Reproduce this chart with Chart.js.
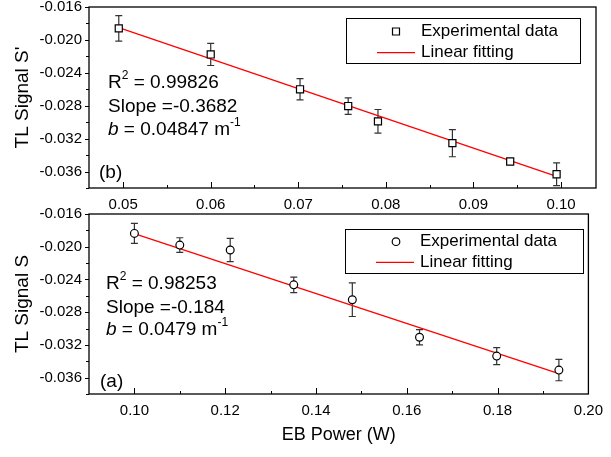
<!DOCTYPE html>
<html>
<head>
<meta charset="utf-8">
<script src="https://cdn.jsdelivr.net/npm/chart.js@4.4.1/dist/chart.umd.min.js"></script>
<style>
  html, body { margin: 0; padding: 0; background: #fff; }
  #wrap { position: relative; width: 611px; height: 457px; overflow: hidden; }
  .pane { position: absolute; left: 0; width: 611px; }
</style>
</head>
<body>
<div id="wrap">
  <div class="pane" style="top:-9px;height:221px"><canvas id="topChart" width="611" height="221"></canvas></div>
  <div class="pane" style="top:198px;height:248px"><canvas id="botChart" width="611" height="248"></canvas></div>
</div>
<script>
// panel (b) - top
var topX   = [0.0495, 0.0600, 0.0702, 0.0757, 0.0791, 0.0876, 0.0942, 0.0995];
var topY   = [-0.0186, -0.02177, -0.0260, -0.02804, -0.0299, -0.03255, -0.03478, -0.03633];
var topErr = [0.00155, 0.00134, 0.0013, 0.0010, 0.00144, 0.00165, 0.0002, 0.00138];
var topFitX = [0.0495, 0.0995];
var topFitY = [-0.0185, -0.0366];
var topXTicks = [0.05, 0.06, 0.07, 0.08, 0.09, 0.10];

// panel (a) - bottom
var botX   = [0.100, 0.110, 0.1211, 0.1351, 0.1480, 0.1628, 0.1798, 0.1935];
var botY   = [-0.01837, -0.0198, -0.0204, -0.02466, -0.02648, -0.03106, -0.03337, -0.03508];
var botErr = [0.00122, 0.0009, 0.00142, 0.00095, 0.00205, 0.00093, 0.00103, 0.0013];
var botFitX = [0.1003, 0.1935];
var botFitY = [-0.01846, -0.03551];
var botXTicks = [0.10, 0.12, 0.14, 0.16, 0.18, 0.20];

var yTicks = [-0.036, -0.032, -0.028, -0.024, -0.020, -0.016];
var legendLabels = ['Experimental data', 'Linear fitting'];

var FONT = '"Liberation Sans", Arial, Helvetica, sans-serif';

function pts(xs, ys) {
  return xs.map(function (x, i) { return { x: x, y: ys[i] }; });
}

// text with superscripts / italics
function drawRich(ctx, parts, x, y, size) {
  var cx = x;
  parts.forEach(function (p) {
    var fs = p.sup ? Math.round(size * 0.62) : size;
    ctx.font = (p.it ? 'italic ' : '') + fs + 'px ' + FONT;
    ctx.textBaseline = 'middle';
    ctx.textAlign = 'left';
    ctx.fillText(p.t, cx, p.sup ? y - size * 0.38 : y);
    cx += ctx.measureText(p.t).width;
  });
}

var panelPlugin = {
  id: 'panelPlugin',
  beforeDatasetsDraw: function (chart) {
    var o = chart.options.plugins.panelPlugin;
    var ctx = chart.ctx, xs = chart.scales.x, ys = chart.scales.y;
    ctx.save();
    ctx.strokeStyle = '#333';
    ctx.lineWidth = 1.2;
    o.ex.forEach(function (x, i) {
      var px = xs.getPixelForValue(x);
      var y1 = ys.getPixelForValue(o.ey[i] + o.err[i]);
      var y2 = ys.getPixelForValue(o.ey[i] - o.err[i]);
      ctx.beginPath();
      ctx.moveTo(px, y1); ctx.lineTo(px, y2);
      ctx.moveTo(px - 3.5, y1); ctx.lineTo(px + 3.5, y1);
      ctx.moveTo(px - 3.5, y2); ctx.lineTo(px + 3.5, y2);
      ctx.stroke();
    });
    ctx.restore();
  },
  afterDraw: function (chart) {
    var o = chart.options.plugins.panelPlugin;
    var ctx = chart.ctx, a = chart.chartArea, xs = chart.scales.x, ys = chart.scales.y;
    ctx.save();
    // frame
    ctx.strokeStyle = '#000';
    ctx.lineWidth = 1.3;
    ctx.strokeRect(a.left, a.top, a.right - a.left, a.bottom - a.top);
    // x ticks (inward)
    ctx.lineWidth = 1;
    ctx.beginPath();
    var xt = o.xTicks;
    for (var i = 0; i < xt.length; i++) {
      var px = Math.round(xs.getPixelForValue(xt[i])) + 0.5;
      ctx.moveTo(px, a.bottom); ctx.lineTo(px, a.bottom - 6);
      if (i < xt.length - 1) {
        var pm = Math.round(xs.getPixelForValue((xt[i] + xt[i + 1]) / 2)) + 0.5;
        ctx.moveTo(pm, a.bottom); ctx.lineTo(pm, a.bottom - 3);
      }
    }
    // y ticks (outward)
    for (var j = 0; j < yTicks.length; j++) {
      var py = Math.round(ys.getPixelForValue(yTicks[j])) + 0.5;
      ctx.moveTo(a.left, py); ctx.lineTo(a.left - 4, py);
      var pm2 = Math.round(ys.getPixelForValue(yTicks[j] - 0.002)) + 0.5;
      ctx.moveTo(a.left, pm2); ctx.lineTo(a.left - 3, pm2);
    }
    ctx.stroke();

    // legend
    var L = o.legend;
    var bx = a.left + L.dx, by = a.top + L.dy;
    ctx.lineWidth = 1;
    ctx.strokeStyle = '#000';
    ctx.strokeRect(Math.round(bx) + 0.5, Math.round(by) + 0.5, L.w, L.h);
    var r1 = by + L.h * 0.3, r2 = by + L.h * 0.77;
    ctx.lineWidth = 1.2;
    ctx.fillStyle = '#fff';
    ctx.beginPath();
    if (o.marker === 'rect') {
      ctx.rect(bx + 50 - 3.5, r1 - 3.5, 7, 7);
    } else {
      ctx.arc(bx + 51, r1, 3.8, 0, Math.PI * 2);
    }
    ctx.fill(); ctx.stroke();
    ctx.strokeStyle = '#ff0000';
    ctx.lineWidth = 1.3;
    ctx.beginPath();
    ctx.moveTo(bx + 31, r2); ctx.lineTo(bx + 69, r2);
    ctx.stroke();
    ctx.fillStyle = '#000';
    ctx.font = '17px ' + FONT;
    ctx.textBaseline = 'middle';
    ctx.textAlign = 'left';
    ctx.fillText(legendLabels[0], bx + 75, r1);
    ctx.fillText(legendLabels[1], bx + 75, r2);

    // annotations
    ctx.fillStyle = '#000';
    o.notes.forEach(function (n) {
      drawRich(ctx, n.parts, a.left + n.dx, a.top + n.dy, 19);
    });
    ctx.font = '19px ' + FONT;
    ctx.textBaseline = 'middle';
    ctx.fillText(o.tag, a.left + o.tagDx, a.bottom - o.tagDy);
    ctx.restore();
  }
};

function makeChart(id, cfg) {
  return new Chart(document.getElementById(id), {
    type: 'scatter',
    data: {
      datasets: [
        {
          label: 'Linear fitting',
          type: 'line',
          data: pts(cfg.fitX, cfg.fitY),
          borderColor: '#ff0000',
          borderWidth: 1.3,
          pointRadius: 0,
          fill: false,
          order: 2
        },
        {
          label: 'Experimental data',
          data: pts(cfg.x, cfg.y),
          pointStyle: cfg.marker,
          pointRadius: cfg.marker === 'rect' ? 5 : 3.9,
          pointBorderColor: '#000',
          pointBackgroundColor: '#fff',
          pointBorderWidth: 1.2,
          showLine: false,
          order: 1
        }
      ]
    },
    options: {
      responsive: false,
      animation: false,
      devicePixelRatio: 1,
      layout: { padding: { left: 0, right: 15, top: 0, bottom: 0 } },
      plugins: {
        legend: { display: false },
        tooltip: { enabled: false },
        panelPlugin: {
          ex: cfg.x, ey: cfg.y, err: cfg.err, xTicks: cfg.xTicks,
          marker: cfg.marker, legend: cfg.legend, notes: cfg.notes,
          tag: cfg.tag, tagDx: cfg.tagDx, tagDy: cfg.tagDy
        }
      },
      scales: {
        x: {
          type: 'linear',
          min: cfg.xMin, max: cfg.xMax,
          grid: { display: false, drawTicks: false },
          border: { display: false },
          afterBuildTicks: function (s) { s.ticks = cfg.xTicks.map(function (v) { return { value: v }; }); },
          afterFit: function (s) { s.height = cfg.xHeight; },
          ticks: {
            padding: 8,
            color: '#000',
            font: { family: FONT, size: 15 },
            maxRotation: 0,
            callback: function (v) { return v.toFixed(2); }
          },
          title: {
            display: !!cfg.xTitle,
            text: cfg.xTitle || '',
            color: '#000',
            font: { family: FONT, size: 18 },
            padding: { top: 2, bottom: 0 }
          }
        },
        y: {
          type: 'linear',
          min: -0.038, max: -0.016,
          grid: { display: false, drawTicks: false },
          border: { display: false },
          afterBuildTicks: function (s) { s.ticks = yTicks.map(function (v) { return { value: v }; }); },
          afterFit: function (s) { s.width = 89; },
          ticks: {
            padding: 7,
            color: '#000',
            font: { family: FONT, size: 15 },
            callback: function (v) { return v.toFixed(3); }
          },
          title: {
            display: true,
            text: cfg.yTitle,
            color: '#000',
            font: { family: FONT, size: 19 },
            padding: { top: 11, bottom: 0 }
          }
        }
      }
    },
    plugins: [panelPlugin]
  });
}

makeChart('topChart', {
  x: topX, y: topY, err: topErr, fitX: topFitX, fitY: topFitY,
  xTicks: topXTicks, xMin: 0.0461, xMax: 0.1040, xHeight: 24,
  marker: 'rect', yTitle: "TL Signal S'",
  legend: { dx: 257, dy: 11, w: 234, h: 45 },
  notes: [
    { dx: 19, dy: 76, parts: [{ t: 'R' }, { t: '2', sup: true }, { t: ' = 0.99826' }] },
    { dx: 19, dy: 100, parts: [{ t: 'Slope =-0.3682' }] },
    { dx: 19, dy: 122.5, parts: [{ t: 'b', it: true }, { t: ' = 0.04847 m' }, { t: '-1', sup: true }] }
  ],
  tag: '(b)', tagDx: 10, tagDy: 15
});

makeChart('botChart', {
  x: botX, y: botY, err: botErr, fitX: botFitX, fitY: botFitY,
  xTicks: botXTicks, xMin: 0.09, xMax: 0.20, xHeight: 52,
  marker: 'circle', yTitle: 'TL Signal S', xTitle: 'EB Power (W)',
  legend: { dx: 256, dy: 14.5, w: 238, h: 44 },
  notes: [
    { dx: 17, dy: 69.5, parts: [{ t: 'R' }, { t: '2', sup: true }, { t: ' = 0.98253' }] },
    { dx: 17, dy: 93.5, parts: [{ t: 'Slope =-0.184' }] },
    { dx: 17, dy: 116.2, parts: [{ t: 'b', it: true }, { t: ' = 0.0479 m' }, { t: '-1', sup: true }] }
  ],
  tag: '(a)', tagDx: 11, tagDy: 12
});
</script>
</body>
</html>
